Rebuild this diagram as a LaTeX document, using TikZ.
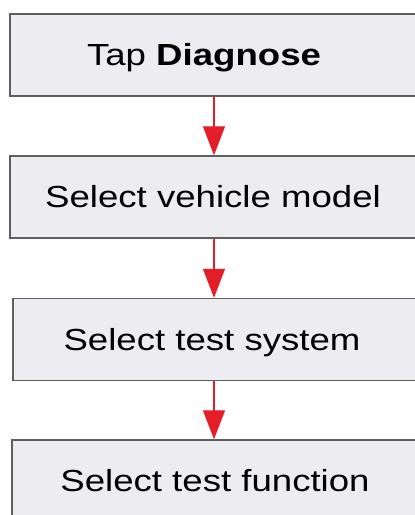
\documentclass[tikz,border=0pt]{standalone}
\usepackage{fontspec}
\setmainfont[FakeStretch=1.2]{Liberation Sans}
\usetikzlibrary{arrows.meta}
\definecolor{boxfill}{RGB}{236,236,241}
\definecolor{boxline}{RGB}{95,95,95}
\definecolor{arrowred}{RGB}{228,30,40}
\begin{document}
\begin{tikzpicture}[x=1pt, y=-1pt,
    stepbox/.style={draw=boxline, line width=1.4pt, fill=boxfill,
        minimum width=406pt, minimum height=82pt, text height=21pt, text depth=0pt,
        font=\fontsize{30.5}{36}\selectfont},
    flow/.style={draw=arrowred, line width=1.3pt,
        -{Triangle[width=22pt, length=29pt, fill=arrowred]}}]
    \useasboundingbox (0,0) rectangle (415,515);
    \clip (0,0) rectangle (415,515);
    % boxes
    \node[stepbox] (tap) at (213,55) {Tap \textbf{Diagnose}\hspace*{18pt}};
    \node[stepbox] (model) at (213,197) {Select vehicle model};
    \node[stepbox] (system) at (216,339.5) {Select test system\hspace*{8pt}};
    \node[stepbox] (function) at (215,481) {Select test function};
    % arrows
    \draw[flow] (tap.south -| 214,0) -- (model.north -| 214,0);
    \draw[flow] (model.south -| 214,0) -- (system.north -| 214,0);
    \draw[flow] (system.south -| 214,0) -- (function.north -| 214,0);
\end{tikzpicture}
\end{document}
